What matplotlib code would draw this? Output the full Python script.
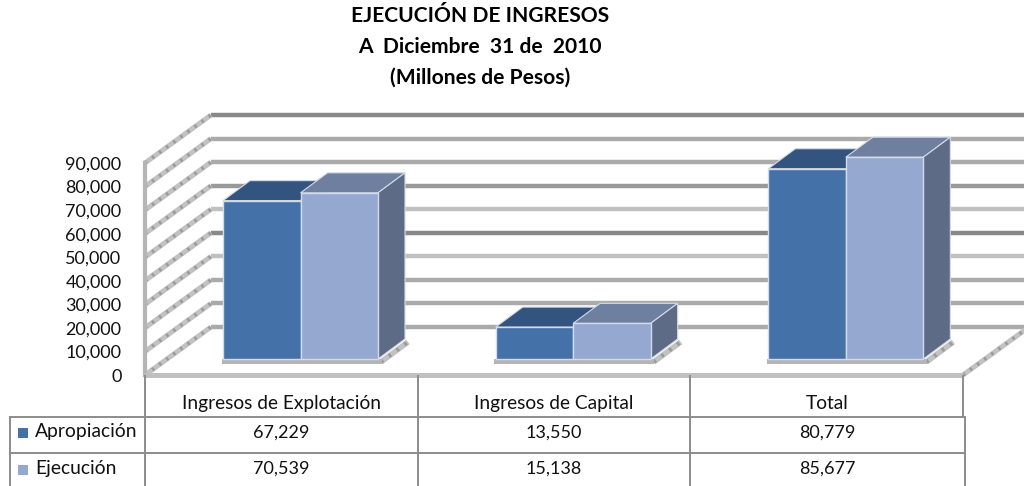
import matplotlib
matplotlib.use("Agg")
import matplotlib.pyplot as plt
from matplotlib.patches import Polygon, Rectangle

plt.rcParams['font.family'] = ['Lato', 'DejaVu Sans']

title_lines = ["EJECUCIÓN DE INGRESOS", "A  Diciembre  31 de  2010", "(Millones de Pesos)"]
categories = ["Ingresos de Explotación", "Ingresos de Capital", "Total"]
series_names = ["Apropiación", "Ejecución"]
apropiacion = [67229, 13550, 80779]
ejecucion = [70539, 15138, 85677]
y_ticks = [0, 10000, 20000, 30000, 40000, 50000, 60000, 70000, 80000, 90000]

W, H = 1024, 486
X0, X1, Y0, Y1 = 145, 963, 375, 163   # front plane of the chart, px
px_x = 3 / (X1 - X0)        # categories per pixel
px_y = 90000 / (Y0 - Y1)    # value per pixel

# colours: front, top, side
c_ap = ("#4471a8", "#33547f", "#33547f")
c_ej = ("#95a9d0", "#6e7f9f", "#5d6b86")
# the gridlines come out uneven in the original (0 up to 90,000)
grid_cols = ["#aaaaaa", "#aaaaaa", "#aaaaaa", "#c0c0c0", "#888888",
             "#c0c0c0", "#999999", "#aaaaaa", "#aaaaaa", "#888888"]

fig = plt.figure(figsize=(W / 100, H / 100), dpi=100)
ax = fig.add_axes([X0 / W, 1 - Y0 / H, (X1 - X0) / W, (Y0 - Y1) / H])
ax.set_xlim(0, 3)
ax.set_ylim(0, 90000)
for s in ax.spines.values():
    s.set_visible(False)
ax.patch.set_alpha(0)
ax.set_xticks([])
ax.set_yticks(y_ticks)
ax.set_yticklabels([f"{v:,}" for v in y_ticks], fontsize=13, color="#111111")
ax.tick_params(axis="y", length=0, pad=17)

# depth of the wall in data units
wall_dx = 66 * px_x
wall_dy = 48 * px_y
bar_dx = 27 * px_x
bar_dy = 20 * px_y


def hatched(xs, ys, lw=3.6):
    ax.plot(xs, ys, color="#c2c2c2", lw=lw, clip_on=False, zorder=2, solid_capstyle="butt")
    ax.plot(xs, ys, color="#9a9a9a", lw=lw * 0.7, ls=(0, (0.7, 1.8)), clip_on=False, zorder=2)


# back wall lines and the oblique bits on the left
for v, col in zip(y_ticks, grid_cols):
    ax.plot([wall_dx, 3 + wall_dx], [v + wall_dy, v + wall_dy], color=col, lw=3.2,
            clip_on=False, zorder=1, solid_capstyle="butt")
    hatched([0, wall_dx], [v, v + wall_dy])

# left edge and floor
ax.plot([0, 0], [0, 90000], color="#b5b5b5", lw=3, clip_on=False, zorder=3)
ax.plot([0, 3], [0, 0], color="#c0c0c0", lw=3.6, clip_on=False, zorder=3, solid_capstyle="butt")
hatched([3, 3 + wall_dx], [0, wall_dy])

bar_w = 77.5 * px_x
first = 78 * px_x
base = 16 * px_y


def draw_bar(x, val, cols):
    top = base + val
    ax.add_patch(Polygon([(x, top), (x + bar_w, top), (x + bar_w + bar_dx, top + bar_dy),
                          (x + bar_dx, top + bar_dy)], fc=cols[1], ec="#d4dbe8", lw=0.8,
                         clip_on=False, zorder=5))
    ax.add_patch(Polygon([(x + bar_w, base), (x + bar_w + bar_dx, base + bar_dy),
                          (x + bar_w + bar_dx, top + bar_dy), (x + bar_w, top)],
                         fc=cols[2], ec="#d4dbe8", lw=0.8, clip_on=False, zorder=5))
    ax.add_patch(Rectangle((x, base), bar_w, val, fc=cols[0], ec="#d4dbe8", lw=1,
                           clip_on=False, zorder=6))


for i in range(len(categories)):
    x = i + first
    # shadow strip under each group
    ax.add_patch(Rectangle((x - 1.5 * px_x, base - 5 * px_y), 2 * bar_w + 5 * px_x, 5 * px_y,
                           fc="#b5b5b5", ec="none", clip_on=False, zorder=4))
    hatched([x + 2 * bar_w + 3 * px_x, x + 2 * bar_w + bar_dx + 3 * px_x],
            [base - 3 * px_y, base + bar_dy - 3 * px_y], lw=4)
    draw_bar(x, apropiacion[i], c_ap)
    draw_bar(x + bar_w, ejecucion[i], c_ej)

# overlay in pixels for the title and the data table
ov = fig.add_axes([0, 0, 1, 1])
ov.set_xlim(0, W)
ov.set_ylim(H, 0)
ov.axis("off")
ov.patch.set_alpha(0)

for line, yc in zip(title_lines, [16, 47, 78]):
    ov.text(480, yc, line, ha="center", va="center", fontsize=15.1, fontweight="bold",
            color="#000000")

col_x = [145, 418, 690, 964]
row_y = [376, 416.5, 453, 486]
line_c = "#8c8c8c"
for x in col_x[:3]:
    ov.plot([x, x], [row_y[0], row_y[3]], color=line_c, lw=1.4)
ov.plot([963, 963], [row_y[0], row_y[1]], color=line_c, lw=1.4)
ov.plot([965, 965], [row_y[1], row_y[3]], color=line_c, lw=1.4)
ov.plot([10, 10], [row_y[1], row_y[3]], color=line_c, lw=1.4)
for y in row_y[1:3]:
    ov.plot([10, 965], [y, y], color=line_c, lw=1.4)

col_mid = [(col_x[i] + col_x[i + 1]) / 2 for i in range(3)]
for xm, cat, a, e in zip(col_mid, categories, apropiacion, ejecucion):
    ov.text(xm, 403, cat, ha="center", va="center", fontsize=13.8, color="#111111")
    ov.text(xm, 433, f"{a:,}", ha="center", va="center", fontsize=13, color="#111111")
    ov.text(xm, 469, f"{e:,}", ha="center", va="center", fontsize=13, color="#111111")

for name, col, yc in zip(series_names, [c_ap[0], c_ej[0]], [432.5, 469.5]):
    ov.add_patch(Rectangle((18, yc - 5), 10, 10, fc=col, ec="none"))
    ov.text(35, yc - 1, name, ha="left", va="center", fontsize=13.9, color="#111111")

fig.savefig("out.png", dpi=100)
